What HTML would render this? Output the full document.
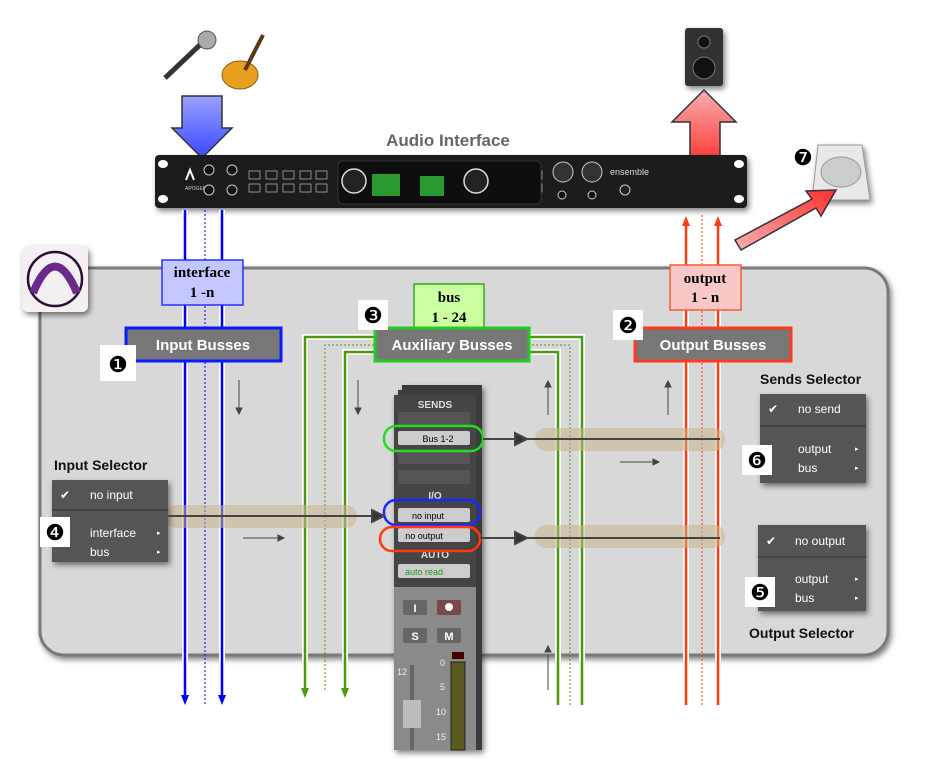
<!DOCTYPE html>
<html><head><meta charset="utf-8"><style>
html,body{margin:0;padding:0;background:#fff;}
svg{display:block;font-family:"Liberation Sans",sans-serif;}
</style></head><body>
<svg width="925" height="772" viewBox="0 0 925 772" xmlns="http://www.w3.org/2000/svg">
<defs>
<filter id="sh" x="-10%" y="-10%" width="130%" height="130%"><feDropShadow dx="2" dy="3" stdDeviation="3" flood-opacity="0.5"/></filter>
<linearGradient id="bg" x1="0" y1="0" x2="0" y2="1"><stop offset="0" stop-color="#9aa0ff"/><stop offset="1" stop-color="#3a48ff"/></linearGradient>
<linearGradient id="rg" x1="0" y1="1" x2="0" y2="0"><stop offset="0" stop-color="#ff4040"/><stop offset="1" stop-color="#f7b0b0"/></linearGradient>
<linearGradient id="rg2" x1="0" y1="1" x2="1" y2="0"><stop offset="0" stop-color="#f7b0b0"/><stop offset="1" stop-color="#ff3030"/></linearGradient>
</defs>

<rect x="40" y="268" width="848" height="387" rx="24" fill="#d8d8d8" stroke="#7a7a7a" stroke-width="3" filter="url(#sh)"/>

<rect x="22" y="246" width="66" height="66" rx="6" fill="#f3eff3" filter="url(#sh)"/>
<circle cx="55" cy="279" r="27" fill="none" stroke="#2a1030" stroke-width="2.5"/>
<path d="M33,293 Q55,240 77,293" fill="none" stroke="#6a2a8a" stroke-width="8"/>

<g transform="translate(165,30)">
<line x1="0" y1="48" x2="38" y2="12" stroke="#333" stroke-width="5"/>
<circle cx="42" cy="10" r="9" fill="#aaa" stroke="#555"/>
<ellipse cx="75" cy="45" rx="18" ry="14" fill="#e8a020" stroke="#8a5a10"/>
<line x1="80" y1="40" x2="98" y2="5" stroke="#5a3a10" stroke-width="4"/>
</g>
<rect x="685" y="28" width="38" height="58" rx="3" fill="#333" filter="url(#sh)"/>
<circle cx="704" cy="42" r="6" fill="#111" stroke="#777"/>
<circle cx="704" cy="68" r="11" fill="#111" stroke="#777"/>
<g filter="url(#sh)"><path d="M818,145 L862,145 L870,200 L812,200 Z" fill="#e8e8ea" stroke="#999"/>
<ellipse cx="841" cy="172" rx="20" ry="15" fill="#ccc" stroke="#999"/></g>

<path d="M182,96 L222,96 L222,128 L232,128 L202,158 L172,128 L182,128 Z" fill="url(#bg)" stroke="#333" stroke-width="1.5"/>
<path d="M690,156 L720,156 L720,122 L736,122 L704,90 L672,122 L690,122 Z" fill="url(#rg)" stroke="#333" stroke-width="1.5"/>
<path d="M735,240 L812,199 L806,191 L836,190 L821,216 L816,208 L741,250 Z" fill="url(#rg2)" stroke="#333" stroke-width="1.5"/>

<text x="448" y="146" text-anchor="middle" font-size="17" font-weight="bold" fill="#666">Audio Interface</text>

<rect x="155" y="155" width="592" height="53" rx="4" fill="#1c1c1e" filter="url(#sh)"/>
<ellipse cx="163" cy="164" rx="5" ry="4" fill="#fff"/><ellipse cx="163" cy="199" rx="5" ry="4" fill="#fff"/>
<ellipse cx="739" cy="164" rx="5" ry="4" fill="#fff"/><ellipse cx="739" cy="199" rx="5" ry="4" fill="#fff"/>
<text x="185" y="190" font-size="5" fill="#ccc">APOGEE</text>
<path d="M186,180 L190,170 L194,180" fill="none" stroke="#fff" stroke-width="2"/>
<g fill="#111" stroke="#ccc"><circle cx="209" cy="170" r="5"/><circle cx="232" cy="170" r="5"/><circle cx="209" cy="190" r="5"/><circle cx="232" cy="190" r="5"/></g>
<g fill="none" stroke="#aaa" stroke-width="0.8">
<rect x="249" y="171" width="11" height="8"/><rect x="266" y="171" width="11" height="8"/><rect x="283" y="171" width="11" height="8"/><rect x="300" y="171" width="11" height="8"/><rect x="316" y="171" width="11" height="8"/>
<rect x="249" y="184" width="11" height="8"/><rect x="266" y="184" width="11" height="8"/><rect x="283" y="184" width="11" height="8"/><rect x="300" y="184" width="11" height="8"/><rect x="316" y="184" width="11" height="8"/>
<rect x="514" y="171" width="11" height="8"/><rect x="531" y="171" width="11" height="8"/><rect x="514" y="184" width="11" height="8"/><rect x="531" y="184" width="11" height="8"/></g>
<rect x="338" y="161" width="203" height="43" rx="5" fill="#0e0e10" stroke="#333"/>
<circle cx="354" cy="181" r="12" fill="#222" stroke="#ddd" stroke-width="1.5"/>
<circle cx="476" cy="181" r="12" fill="#222" stroke="#ddd" stroke-width="1.5"/>
<rect x="372" y="174" width="28" height="22" fill="#2a9a30"/><rect x="420" y="176" width="24" height="20" fill="#2a9a30"/>
<circle cx="563" cy="172" r="10" fill="#333" stroke="#ccc"/><circle cx="592" cy="172" r="10" fill="#333" stroke="#ccc"/>
<circle cx="562" cy="195" r="4" fill="#111" stroke="#ccc"/><circle cx="592" cy="195" r="4" fill="#111" stroke="#ccc"/>
<text x="610" y="175" font-size="9" fill="#ddd">ensemble</text>
<circle cx="625" cy="190" r="5" fill="#222" stroke="#ccc"/>

<g stroke="#fff" stroke-width="6" fill="none">
<line x1="185" y1="210" x2="185" y2="695"/><line x1="222" y1="210" x2="222" y2="695"/>
<line x1="686" y1="225" x2="686" y2="705"/><line x1="718" y1="225" x2="718" y2="705"/>
<path d="M305,690 V337 H582 V705"/><path d="M345,690 V352 H558 V705"/>
</g>
<g stroke="#0000ff" stroke-width="2.5" fill="none">
<line x1="185" y1="210" x2="185" y2="696"/>
<line x1="222" y1="210" x2="222" y2="696"/>
</g>
<path d="M181,695 h8 l-4,10z M218,695 h8 l-4,10z" fill="#0000ff"/>
<line x1="205" y1="210" x2="205" y2="705" stroke="#0000ff" stroke-width="1" stroke-dasharray="2,2"/>
<g stroke="#ff3a10" stroke-width="2.5" fill="none"><line x1="686" y1="225" x2="686" y2="705"/><line x1="718" y1="225" x2="718" y2="705"/></g>
<path d="M682,226 h8 l-4,-10z M714,226 h8 l-4,-10z" fill="#ff3a10"/>
<line x1="702" y1="215" x2="702" y2="705" stroke="#ff3a10" stroke-width="1" stroke-dasharray="2,2"/>
<g stroke="#4a9a10" stroke-width="2.5" fill="none"><path d="M305,690 V337 H582 V705"/><path d="M345,690 V352 H558 V705"/></g>
<path d="M301,688 h8 l-4,10z M341,688 h8 l-4,10z" fill="#4a9a10"/>
<path d="M325,690 V345 H570 V705" fill="none" stroke="#4a9a10" stroke-width="1" stroke-dasharray="2,2"/>

<g stroke="#444" stroke-width="1" fill="#444">
<line x1="239" y1="380" x2="239" y2="410"/><path d="M236,408 l3,6 l3,-6z"/>
<line x1="358" y1="380" x2="358" y2="410"/><path d="M355,408 l3,6 l3,-6z"/>
<line x1="548" y1="385" x2="548" y2="415"/><path d="M545,387 l3,-6 l3,6z"/>
<line x1="668" y1="385" x2="668" y2="415"/><path d="M665,387 l3,-6 l3,6z"/>
<line x1="548" y1="655" x2="548" y2="690"/><path d="M545,652 l3,-6 l3,6z"/>
<line x1="243" y1="538" x2="280" y2="538"/><path d="M278,535 l6,3 l-6,3z"/>
<line x1="620" y1="462" x2="655" y2="462"/><path d="M653,459 l6,3 l-6,3z"/>
</g>

<g fill="#c8b48a" opacity="0.55">
<rect x="165" y="505" width="192" height="23" rx="11"/>
<rect x="535" y="428" width="190" height="23" rx="11"/>
<rect x="535" y="525" width="190" height="23" rx="11"/>
</g>

<rect x="162" y="260" width="81" height="45" fill="#c4c6ff" stroke="#2233ff" stroke-width="1.5"/>
<text x="202" y="277" text-anchor="middle" font-family="Liberation Serif,serif" font-weight="bold" font-size="15">interface</text>
<text x="202" y="297" text-anchor="middle" font-family="Liberation Serif,serif" font-weight="bold" font-size="15">1 -n</text>
<rect x="414" y="284" width="70" height="46" fill="#ccffa0" stroke="#33aa22" stroke-width="1.5"/>
<text x="449" y="302" text-anchor="middle" font-family="Liberation Serif,serif" font-weight="bold" font-size="15">bus</text>
<text x="449" y="322" text-anchor="middle" font-family="Liberation Serif,serif" font-weight="bold" font-size="15">1 - 24</text>
<rect x="670" y="265" width="71" height="45" fill="#f8c8c8" stroke="#ff5a30" stroke-width="1.5"/>
<text x="705" y="283" text-anchor="middle" font-family="Liberation Serif,serif" font-weight="bold" font-size="15">output</text>
<text x="705" y="302" text-anchor="middle" font-family="Liberation Serif,serif" font-weight="bold" font-size="15">1 - n</text>

<g font-weight="bold" font-size="15" fill="#fff" text-anchor="middle">
<rect x="126" y="328" width="155" height="33" fill="#777" stroke="#0a1aff" stroke-width="3"/>
<text x="203" y="350">Input Busses</text>
<rect x="375" y="328" width="154" height="33" fill="#777" stroke="#22cc22" stroke-width="3"/>
<text x="452" y="350">Auxiliary Busses</text>
<rect x="635" y="328" width="156" height="33" fill="#777" stroke="#ff3a20" stroke-width="3"/>
<text x="713" y="350">Output Busses</text>
</g>

<g font-size="12" fill="#fff">
<text x="54" y="470" font-weight="bold" font-size="14" fill="#111">Input Selector</text>
<rect x="52" y="480" width="116" height="82" fill="#555" filter="url(#sh)"/>
<line x1="52" y1="510" x2="168" y2="510" stroke="#333"/>
<text x="60" y="499">✔</text><text x="90" y="499">no input</text>
<text x="90" y="537">interface</text><text x="90" y="556">bus</text>
<text x="157" y="535" font-size="7">▸</text><text x="157" y="554" font-size="7">▸</text>

<text x="760" y="384" font-weight="bold" font-size="14" fill="#111">Sends Selector</text>
<rect x="760" y="394" width="106" height="89" fill="#555" filter="url(#sh)"/>
<line x1="760" y1="426" x2="866" y2="426" stroke="#333"/>
<text x="768" y="413">✔</text><text x="798" y="413">no send</text>
<text x="798" y="453">output</text><text x="798" y="472">bus</text>
<text x="855" y="451" font-size="7">▸</text><text x="855" y="470" font-size="7">▸</text>

<rect x="758" y="525" width="108" height="86" fill="#555" filter="url(#sh)"/>
<line x1="758" y1="557" x2="866" y2="557" stroke="#333"/>
<text x="766" y="545">✔</text><text x="795" y="545">no output</text>
<text x="795" y="583">output</text><text x="795" y="602">bus</text>
<text x="855" y="581" font-size="7">▸</text><text x="855" y="600" font-size="7">▸</text>
<text x="749" y="638" font-weight="bold" font-size="14" fill="#111">Output Selector</text>
</g>

<g font-size="22" text-anchor="middle" fill="#000">
<rect x="100" y="345" width="36" height="36" fill="#fff"/><text x="118" y="372">❶</text>
<rect x="613" y="310" width="30" height="30" fill="#fff"/><text x="628" y="333">❷</text>
<rect x="358" y="300" width="30" height="30" fill="#fff"/><text x="373" y="323">❸</text>
<rect x="40" y="517" width="30" height="30" fill="#fff"/><text x="55" y="540">❹</text>
<rect x="745" y="577" width="30" height="30" fill="#fff"/><text x="760" y="600">❺</text>
<rect x="742" y="445" width="30" height="30" fill="#fff"/><text x="757" y="468">❻</text>
<text x="803" y="165">❼</text>
</g>

<g filter="url(#sh)">
<rect x="402" y="385" width="80" height="365" fill="#3a3a3a"/>
<rect x="398" y="390" width="80" height="360" fill="#3c3c3c"/>
<rect x="394" y="395" width="82" height="355" fill="#444"/>
</g>
<text x="435" y="408" text-anchor="middle" font-size="10" font-weight="bold" fill="#ddd">SENDS</text>
<g fill="#555"><rect x="398" y="412" width="72" height="14" rx="2"/><rect x="398" y="450" width="72" height="14" rx="2"/><rect x="398" y="470" width="72" height="14" rx="2"/></g>
<rect x="398" y="431" width="72" height="14" rx="2" fill="#ccc"/>
<text x="438" y="442" text-anchor="middle" font-size="9">Bus 1-2</text>
<text x="435" y="499" text-anchor="middle" font-size="10" font-weight="bold" fill="#ddd">I/O</text>
<rect x="398" y="508" width="72" height="14" rx="2" fill="#ccc"/><text x="428" y="519" text-anchor="middle" font-size="9">no input</text>
<rect x="398" y="528" width="72" height="14" rx="2" fill="#ccc"/><text x="424" y="539" text-anchor="middle" font-size="9">no output</text>
<text x="435" y="558" text-anchor="middle" font-size="10" font-weight="bold" fill="#ddd">AUTO</text>
<rect x="398" y="564" width="72" height="14" rx="2" fill="#ccc"/><text x="424" y="575" text-anchor="middle" font-size="9" fill="#229922">auto read</text>
<rect x="394" y="587" width="82" height="163" fill="#8a8a8a"/>
<g font-size="11" font-weight="bold" fill="#fff" text-anchor="middle">
<rect x="403" y="600" width="24" height="15" rx="2" fill="#666"/><text x="415" y="612">I</text>
<rect x="437" y="600" width="24" height="15" rx="2" fill="#7a4848"/><circle cx="449" cy="607" r="4" fill="#fff"/>
<rect x="403" y="628" width="24" height="15" rx="2" fill="#666"/><text x="415" y="640">S</text>
<rect x="437" y="628" width="24" height="15" rx="2" fill="#666"/><text x="449" y="640">M</text>
</g>
<rect x="452" y="652" width="12" height="7" fill="#400"/>
<rect x="451" y="662" width="14" height="88" fill="#5a5a20" stroke="#222"/>
<rect x="410" y="665" width="4" height="85" fill="#666"/>
<rect x="403" y="700" width="18" height="28" fill="#bbb"/>
<g font-size="9" fill="#eee"><text x="440" y="666">0</text><text x="440" y="690">5</text><text x="436" y="715">10</text><text x="436" y="740">15</text><text x="397" y="675">12</text></g>

<rect x="384" y="426" width="99" height="25" rx="12" fill="none" stroke="#22dd22" stroke-width="2.5"/>
<rect x="384" y="500" width="96" height="25" rx="12" fill="none" stroke="#1a2aff" stroke-width="2.5"/>
<rect x="380" y="527" width="100" height="24" rx="12" fill="none" stroke="#ff3a10" stroke-width="2.5"/>

<g stroke="#444" stroke-width="2" fill="#333">
<line x1="168" y1="516" x2="378" y2="516"/><path d="M372,510 l12,6 l-12,6z"/>
<line x1="483" y1="439" x2="520" y2="439"/><path d="M515,433 l12,6 l-12,6z"/>
<line x1="527" y1="439" x2="720" y2="439"/>
<line x1="480" y1="538" x2="520" y2="538"/><path d="M515,532 l12,6 l-12,6z"/>
<line x1="527" y1="538" x2="720" y2="538"/>
</g>
</svg>
</body></html>
